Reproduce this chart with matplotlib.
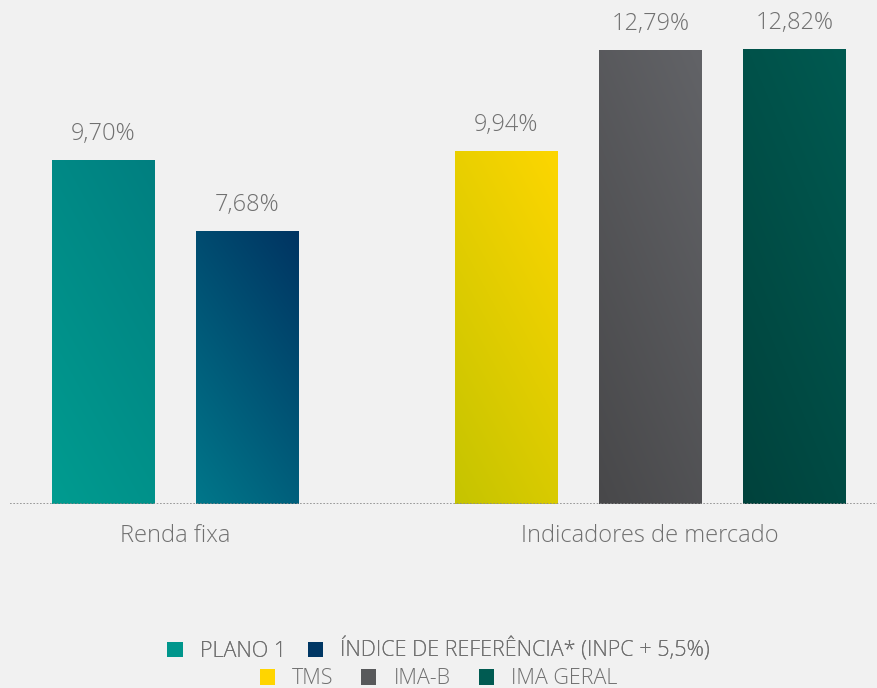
import matplotlib.pyplot as plt
import matplotlib.colors as mcolors
from matplotlib.patches import Patch
import numpy as np

grupos = ["Renda fixa", "Indicadores de mercado"]
series = ["PLANO 1", "ÍNDICE DE REFERÊNCIA* (INPC + 5,5%)", "TMS", "IMA-B", "IMA GERAL"]
valores = [9.70, 7.68, 9.94, 12.79, 12.82]
grupo_da_serie = [0, 0, 1, 1, 1]
rotulos = ["9,70%", "7,68%", "9,94%", "12,79%", "12,82%"]

cores_legenda = ["#00968c", "#003764", "#ffd500", "#58595b", "#005b52"]
# gradiente: (cor canto superior direito, cor canto inferior esquerdo)
gradientes = [("#007f80", "#009c90"), ("#003462", "#00778a"),
              ("#fdd600", "#c5c400"), ("#626367", "#48484a"),
              ("#005a51", "#00423c")]

plt.rcParams['font.family'] = ['Open Sans', 'DejaVu Sans']
cinza = "#707070"
fundo = "#f1f1f1"

fig = plt.figure(figsize=(8.77, 6.88), dpi=100, facecolor=fundo)
ax = fig.add_axes([0, (688 - 504) / 688, 1, 504 / 688])
ax.set_facecolor(fundo)

px_unit = 144.0
centros = [0.0, 3.3]
offsets = {0: [-0.5, 0.5], 1: [-1.0, 0.0, 1.0]}
larg = 0.71

pos = []
cont = {0: 0, 1: 0}
for g in grupo_da_serie:
    pos.append(centros[g] + offsets[g][cont[g]])
    cont[g] += 1

ax.set_xlim(-175 / px_unit, (877 - 175) / px_unit)
ax.set_ylim(0, 504 / 35.46)

# gradiente diagonal
nx, ny = 60, 200
gx, gy = np.meshgrid(np.linspace(0, 1, nx), np.linspace(0, 1, ny))
t = np.clip(0.35 * gx + 0.65 * gy, 0, 1)  # 1 = topo direito

for x, v, (c_top, c_bot), lab in zip(pos, valores, gradientes, rotulos):
    a = np.array(mcolors.to_rgb(c_bot))
    b = np.array(mcolors.to_rgb(c_top))
    img = a[None, None, :] * (1 - t[..., None]) + b[None, None, :] * t[..., None]
    ax.imshow(img, extent=[x - larg / 2, x + larg / 2, 0, v], origin='lower',
              aspect='auto', interpolation='bilinear', zorder=2)
    ax.text(x, v + 0.4, lab, ha='center', va='bottom', fontsize=17,
            color=cinza, fontweight='light')

ax.axhline(0, xmin=10 / 877, xmax=1, color="#8a8a8a", lw=1.2, ls=(0, (1, 1)), zorder=3)

for c, nome in zip(centros, grupos):
    ax.text(c, -0.9, nome, ha='center', va='center', fontsize=17,
            color=cinza, fontweight='light', clip_on=False)

ax.axis('off')

h = [Patch(facecolor=c, edgecolor='none') for c in cores_legenda]
kw = dict(frameon=False, labelcolor=cinza, handlelength=0.7,
          handleheight=0.7, handletextpad=0.8,
          prop={'weight': 'light', 'size': 15.5})
leg1 = fig.legend(h[:2], series[:2], ncol=2, loc='center', columnspacing=1.0,
                  bbox_to_anchor=(0.5, 1 - 650 / 688), **kw)
fig.add_artist(leg1)
fig.legend(h[2:], series[2:], ncol=3, loc='center', columnspacing=1.3,
           bbox_to_anchor=(0.5, 1 - 679 / 688), **kw)

fig.savefig("out.png", dpi=100, facecolor=fundo)
